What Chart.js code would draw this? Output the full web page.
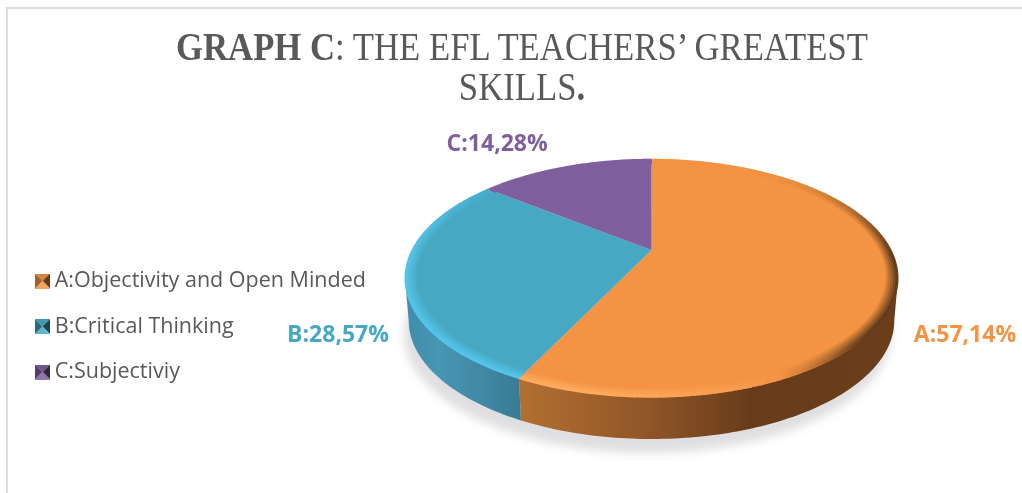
<!DOCTYPE html>
<html>
<head>
<meta charset="utf-8">
<script src="https://cdn.jsdelivr.net/npm/chart.js@4"></script>
<style>
html, body { margin: 0; padding: 0; background: #fff; overflow: hidden; }
#marco { position: absolute; left: 0; top: 0; width: 1022px; height: 493px; }
#marco::before { content: ''; position: absolute; left: 6px; top: 7px; right: 0; bottom: 0; border-left: 2px solid #dcdcdc; border-top: 2px solid #dcdcdc; }
#titulo { position: absolute; left: 0; top: 27px; width: 1044px; text-align: center; font: 39px/40px "Liberation Serif", serif; color: #595959; transform: scaleX(0.89); }
canvas { position: absolute; left: 0; top: 0; }
</style>
</head>
<body>
<div id="marco">
  <canvas id="grafico" width="1022" height="493"></canvas>
  <div id="titulo"><b>GRAPH C</b>: THE EFL TEACHERS’ GREATEST<br>SKILLS<b>.</b></div>
</div>
<script>
// Datos
const categories = ['A:Objectivity and Open Minded', 'B:Critical Thinking', 'C:Subjectiviy'];
const shares = [57.14, 28.57, 14.28];
const sliceColors = ['#f39343', '#47a8c4', '#7f5f9e'];
const rimLights = ['#ffa95c', '#55c4e8', '#8f6fae'];
const sideStops = [
    [[0.25, '#b06e30'], [0.5, '#8f5427'], [0.7, '#683c1a'], [1, '#6a3d1b']],
    [[0, '#3f8dab'], [0.07, '#4796b4'], [0.17, '#3f86a1'], [0.25, '#38788f']],
    [[0, '#5b4472'], [1, '#5b4472']]
];
const labelOffsets = [[67, 59], [-67, 59], [-69, -23]];

const DEPTH = 42;
const APEX = 0.38;   // donde cae el centro del pastel dentro del area, por la perspectiva
const rad = (d) => d * Math.PI / 180;

const hexToRgb = (h) => [1, 3, 5].map(i => parseInt(h.slice(i, i + 2), 16));
const mix = (a, b, t) => {
    const ca = hexToRgb(a), cb = hexToRgb(b);
    return `rgb(${ca.map((v, i) => Math.round(v + (cb[i] - v) * t)).join(',')})`;
};

// Proyeccion del circulo unidad sobre el area del grafico
function makeProjection(area) {
    const up = area.height * APEX, down = area.height - up;
    const b = (down - up) / (down + up);
    const a = up * (1 + b);
    const k = Math.sqrt(1 - b * b);
    const cx = (area.left + area.right) / 2, rx = area.width / 2, cy = area.top + up;
    return {
        b, cx,
        at: (ang, r = 1) => {
            const u = r * Math.cos(ang), v = r * Math.sin(ang), w = 1 - b * v;
            return [cx + rx * k * u / w, cy + a * v / w];
        }
    };
}

function arcPoints(p, from, to, r = 1) {
    const pts = [];
    const n = Math.max(2, Math.ceil(Math.abs(to - from) / rad(1)));
    for (let i = 0; i <= n; i++) pts.push(p.at(from + (to - from) * i / n, r));
    return pts;
}

function tracePts(ctx, pts, start) {
    pts.forEach((q, i) => (i === 0 && start) ? ctx.moveTo(q[0], q[1]) : ctx.lineTo(q[0], q[1]));
}

const pie3d = {
    id: 'pie3d',
    beforeLayout(chart) {
        const legend = chart.legend;
        if (legend.__fijada) return;
        legend.__fijada = true;
        const fit = legend.fit;
        legend.fit = function () { fit.call(this); this.width = 388; };
    },
    afterLayout(chart) {
        chart.legend.top += 48;
        chart.legend.bottom += 48;
    },
    beforeDatasetsDraw(chart) {
        const { ctx, chartArea: area } = chart;
        const arcs = chart.getDatasetMeta(0).data;
        const p = makeProjection(area);
        const sil = Math.asin(p.b);
        const frontFrom = sil, frontTo = Math.PI - sil;
        const bottomOf = (q) => [p.cx + (q[0] - p.cx) * 0.985, q[1] + DEPTH];

        ctx.save();
        // sombra sobre el suelo
        ctx.save();
        ctx.filter = 'blur(5px)';
        ctx.fillStyle = '#dfdfe1';
        ctx.beginPath();
        ctx.ellipse(p.cx - 4, (area.top + area.bottom) / 2 + 56, area.width / 2 - 3, area.height / 2, 0, 0, Math.PI * 2);
        ctx.fill();
        ctx.restore();

        // pared lateral
        arcs.forEach((arc, i) => {
            const from = Math.max(arc.startAngle, frontFrom);
            const to = Math.min(arc.endAngle, frontTo);
            if (to <= from) return;
            const pts = arcPoints(p, from, to);
            const g = ctx.createLinearGradient(area.left, 0, area.right, 0);
            sideStops[i].forEach(s => g.addColorStop(s[0], s[1]));
            ctx.fillStyle = g;
            ctx.beginPath();
            tracePts(ctx, pts, true);
            tracePts(ctx, pts.slice().reverse().map(bottomOf), false);
            ctx.closePath();
            ctx.fill();
        });

        // cara superior
        arcs.forEach((arc, i) => {
            ctx.fillStyle = sliceColors[i];
            ctx.beginPath();
            const c = p.at(0, 0);
            ctx.moveTo(c[0], c[1]);
            tracePts(ctx, arcPoints(p, arc.startAngle, arc.endAngle), false);
            ctx.closePath();
            ctx.fill();
        });

        // bisel del borde
        const rings = 5;
        arcs.forEach((arc, i) => {
            const base = sliceColors[i];
            const hexOf = (c) => '#' + c.match(/\d+/g).map(v => (+v).toString(16).padStart(2, '0')).join('');
            const darkHex = hexOf(mix(base, '#000000', 0.6));
            ctx.lineWidth = 3;
            for (let r = rings - 1; r >= 0; r--) {
                const radius = 1 - 0.009 * r - 0.004;
                const fade = 1 - r / rings;
                for (let a = arc.startAngle; a < arc.endAngle; a += rad(1)) {
                    const next = Math.min(a + rad(1.2), arc.endAngle);
                    const lit = Math.max(0, Math.cos(a - rad(135)));
                    const shade = Math.pow(Math.max(0, Math.cos(a - rad(20))), 3);
                    const s = lit * 1.3 - shade * 1.15;
                    ctx.strokeStyle = s >= 0
                        ? mix(base, rimLights[i], Math.min(1, s) * fade)
                        : mix(base, darkHex, Math.min(1, -s) * fade);
                    ctx.beginPath();
                    const q0 = p.at(a, radius), q1 = p.at(next, radius);
                    ctx.moveTo(q0[0], q0[1]);
                    ctx.lineTo(q1[0], q1[1]);
                    ctx.stroke();
                }
            }
        });

        // etiquetas
        ctx.font = 'bold 23px "Open Sans", sans-serif';
        ctx.textAlign = 'center';
        ctx.textBaseline = 'middle';
        arcs.forEach((arc, i) => {
            const mid = (arc.startAngle + arc.endAngle) / 2;
            const q = p.at(mid);
            const txt = categories[i].split(':')[0] + ':' + shares[i].toFixed(2).replace('.', ',') + '%';
            ctx.fillStyle = sliceColors[i];
            ctx.fillText(txt, q[0] + labelOffsets[i][0], q[1] + labelOffsets[i][1]);
        });
        ctx.restore();
        return false;
    }
};

// Cuadradito biselado de la leyenda
function makeSwatch(color) {
    const size = 15;
    const c = document.createElement('canvas');
    c.width = size; c.height = size;
    const g = c.getContext('2d');
    const tri = (pts, fill) => {
        g.fillStyle = fill;
        g.beginPath();
        pts.forEach((q, i) => i ? g.lineTo(q[0], q[1]) : g.moveTo(q[0], q[1]));
        g.closePath();
        g.fill();
    };
    const m = size / 2;
    tri([[0, 0], [size, 0], [m, m]], mix(color, '#000000', 0.1));
    tri([[size, 0], [size, size], [m, m]], mix(color, '#000000', 0.6));
    tri([[0, size], [size, size], [m, m]], mix(color, '#ffffff', 0.15));
    tri([[0, 0], [0, size], [m, m]], mix(color, '#000000', 0.35));
    return c;
}
const swatches = sliceColors.map(makeSwatch);

new Chart(document.getElementById('grafico'), {
    type: 'pie',
    data: {
        labels: categories,
        datasets: [{ data: shares, backgroundColor: sliceColors, borderWidth: 0 }]
    },
    options: {
        responsive: false,
        animation: false,
        rotation: 0,
        layout: { padding: { left: 17, right: 124, top: 160, bottom: 96 } },
        plugins: {
            title: { display: false },
            tooltip: { enabled: false },
            legend: {
                position: 'left',
                align: 'center',
                labels: {
                    color: '#595959',
                    font: { family: '"Open Sans", sans-serif', size: 21.5 },
                    usePointStyle: true,
                    boxWidth: 3,
                    padding: 24,
                    generateLabels: (chart) => Chart.overrides.pie.plugins.legend.labels.generateLabels(chart)
                        .map((l, i) => ({ ...l, pointStyle: swatches[i], fontColor: '#595959' }))
                }
            }
        }
    },
    plugins: [pie3d]
});
</script>
</body>
</html>
